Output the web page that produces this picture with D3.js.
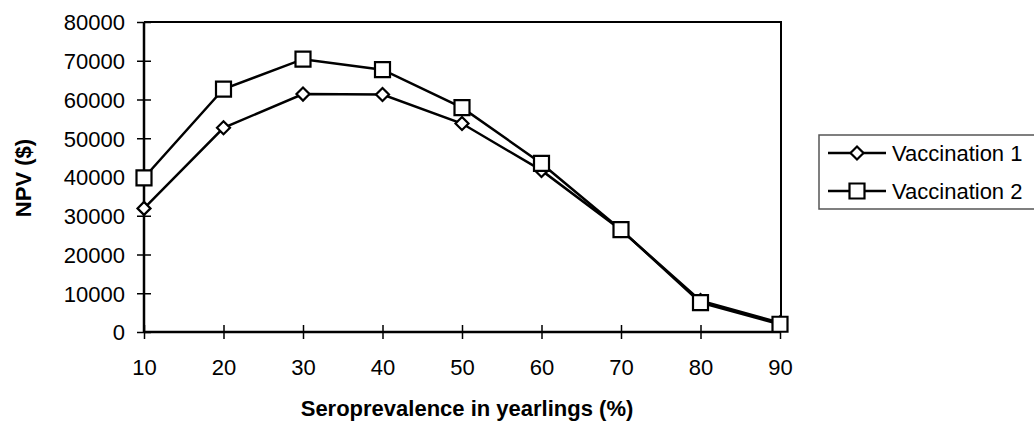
<!DOCTYPE html>
<html><head><meta charset="utf-8">
<script src="https://cdn.jsdelivr.net/npm/d3@7"></script>
<style>body{margin:0;background:#fff}svg{display:block}text{font-family:"Liberation Sans",Arial,sans-serif;fill:#000}</style>
</head><body>
<svg id="c" width="1034" height="430"></svg>
<script>
const categories = [10, 20, 30, 40, 50, 60, 70, 80, 90];
const vaccination1 = [31900, 52700, 61400, 61300, 53800, 41700, 26300, 8100, 2400];
const vaccination2 = [39800, 62700, 70400, 67700, 57900, 43500, 26400, 7600, 2000];
const yTicks = [0, 10000, 20000, 30000, 40000, 50000, 60000, 70000, 80000];
const seriesNames = ["Vaccination 1", "Vaccination 2"];

const svg = d3.select("#c");
const L = 144, R = 780, T = 22, B = 332;
const x = d3.scalePoint().domain(categories).range([L, R]);
const y = d3.scaleLinear().domain([0, 80000]).range([B, T]);

// frame (top and right)
svg.append("path").attr("d", `M${L},${T}H${R+1}V${B}`).attr("fill","none").attr("stroke","#000").attr("stroke-width",2);

// y axis
const ya = svg.append("g").attr("transform",`translate(${L},0)`)
  .call(d3.axisLeft(y).tickValues(yTicks).tickSize(7).tickPadding(12).tickFormat(d3.format("d")));
ya.select(".domain").attr("stroke-width",2.5).attr("d",`M0,${B}V${T}`);
ya.selectAll(".tick line").attr("x1",-7).attr("x2",7).attr("stroke-width",1.5);
ya.selectAll(".tick text").style("font-size","22px").attr("dy","0.36em");

// x axis
const xa = svg.append("g").attr("transform",`translate(0,${B})`)
  .call(d3.axisBottom(x).tickSize(7).tickPadding(20));
xa.select(".domain").attr("stroke-width",2.5).attr("d",`M${L},0H${R+1}`);
xa.selectAll(".tick line").attr("y1",-7).attr("y2",7).attr("stroke-width",1.5);
xa.selectAll(".tick text").style("font-size","22px");

// titles
svg.append("text").attr("x",467).attr("y",416).attr("text-anchor","middle")
  .style("font-size","22px").style("font-weight","bold").text("Seroprevalence in yearlings (%)");
svg.append("text").attr("transform","translate(31,178) rotate(-90)").attr("text-anchor","middle")
  .style("font-size","22px").style("font-weight","bold").text("NPV ($)");

const line = d3.line().x((d,i)=>x(categories[i])).y(d=>y(d));
const diamond = "M0,-6.5L6.5,0L0,6.5L-6.5,0Z";
const square = "M-7.5,-7.5H7.5V7.5H-7.5Z";

[[vaccination1, diamond],[vaccination2, square]].forEach(([vals, shape])=>{
  svg.append("path").datum(vals).attr("d",line).attr("fill","none").attr("stroke","#000").attr("stroke-width",2.5);
  svg.append("g").selectAll("path").data(vals).join("path")
    .attr("transform",(d,i)=>`translate(${x(categories[i])},${y(d)})`)
    .attr("d",shape).attr("fill","#fff").attr("stroke","#000").attr("stroke-width",2.2);
});

// legend
const lg = svg.append("g");
lg.append("rect").attr("x",819).attr("y",135).attr("width",230).attr("height",74)
  .attr("fill","#fff").attr("stroke","#555").attr("stroke-width",1.5);
[diamond, square].forEach((shape,i)=>{
  const cy = 153 + i*38;
  lg.append("line").attr("x1",828).attr("x2",886).attr("y1",cy).attr("y2",cy).attr("stroke","#000").attr("stroke-width",2.5);
  lg.append("path").attr("transform",`translate(857,${cy})`).attr("d",shape).attr("fill","#fff").attr("stroke","#000").attr("stroke-width",2.2);
  lg.append("text").attr("x",892).attr("y",cy).attr("dy","0.36em").style("font-size","22px").text(seriesNames[i]);
});
</script>
</body></html>
